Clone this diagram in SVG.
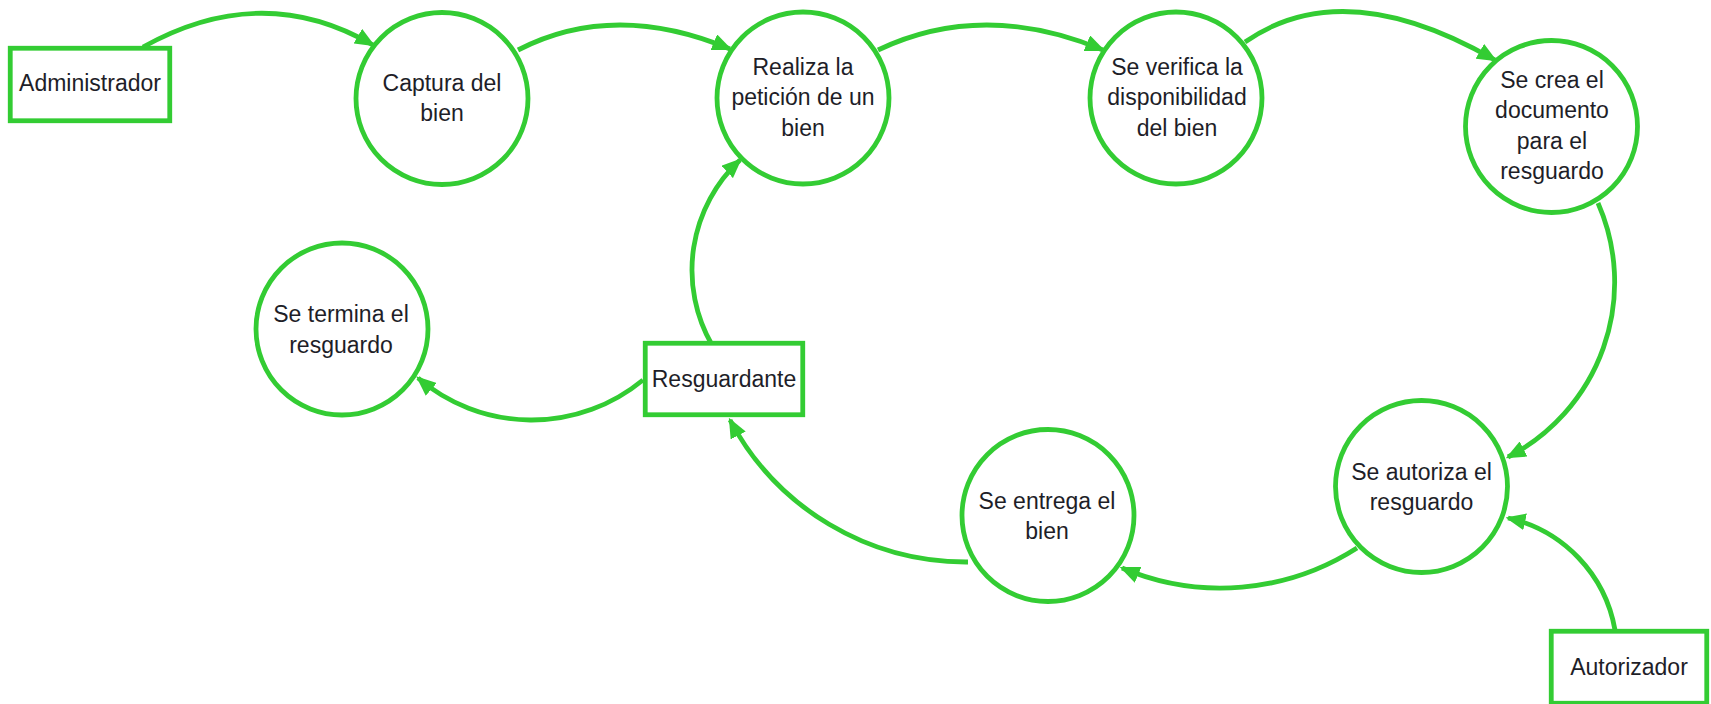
<svg xmlns="http://www.w3.org/2000/svg" width="1711" height="704" viewBox="0 0 1711 704">
<style>
.n{fill:#ffffff;stroke:#33cc33;stroke-width:4.8}
.c{fill:none;stroke:#33cc33;stroke-width:4.8;marker-end:url(#ah)}
text{font-family:"Liberation Sans",Arial,sans-serif;font-size:23px;fill:#1e1e28;text-anchor:middle}
</style>
<defs>
<marker id="ah" markerUnits="userSpaceOnUse" viewBox="0 0 20 17" markerWidth="20" markerHeight="17" refX="17.5" refY="8.5" orient="auto">
<path d="M0,0 L20,8.5 L0,17 z" fill="#33cc33"/>
</marker>
</defs>
<rect width="1711" height="704" fill="#ffffff"/>
<g id="connectors">
<path class="c" d="M143,47 Q262,-19.5 373,45"/>
<path class="c" d="M518,50 Q614,0.5 730,49"/>
<path class="c" d="M878,50 Q983,0 1103,50"/>
<path class="c" d="M1245,42 Q1344,-27 1495,60"/>
<path class="c" d="M1598,203 A196.6,196.6 0 0,1 1508,457"/>
<path class="c" d="M1615,630 A139.3,139.3 0 0,0 1508,518"/>
<path class="c" d="M1357,548 A252.6,252.6 0 0,1 1122,568"/>
<path class="c" d="M968,562 A267,267 0 0,1 730,420"/>
<path class="c" d="M712,345 A150.2,150.2 0 0,1 740,160"/>
<path class="c" d="M643,380 A174.8,174.8 0 0,1 418,378"/>
</g>
<g id="administrador">
<rect class="n" x="10.25" y="48.25" width="159.5" height="72.5"/>
<text x="90" y="91">Administrador</text>
</g>
<g id="captura">
<circle class="n" cx="442" cy="98.5" r="86"/>
<text x="442" y="90.5">Captura del</text>
<text x="442" y="121">bien</text>
</g>
<g id="realiza">
<circle class="n" cx="803" cy="98" r="86"/>
<text x="803" y="74.5">Realiza la</text>
<text x="803" y="105">petición de un</text>
<text x="803" y="135.5">bien</text>
</g>
<g id="verifica">
<circle class="n" cx="1176" cy="98" r="86"/>
<text x="1177" y="74.5">Se verifica la</text>
<text x="1177" y="105">disponibilidad</text>
<text x="1177" y="135.5">del bien</text>
</g>
<g id="crea">
<circle class="n" cx="1551.5" cy="126.5" r="86"/>
<text x="1552" y="87.75">Se crea el</text>
<text x="1552" y="118.25">documento</text>
<text x="1552" y="148.75">para el</text>
<text x="1552" y="179.25">resguardo</text>
</g>
<g id="autoriza">
<circle class="n" cx="1421.5" cy="486.5" r="86"/>
<text x="1421.5" y="479.5">Se autoriza el</text>
<text x="1421.5" y="510">resguardo</text>
</g>
<g id="entrega">
<circle class="n" cx="1048" cy="515.5" r="86"/>
<text x="1047" y="508.5">Se entrega el</text>
<text x="1047" y="539">bien</text>
</g>
<g id="termina">
<circle class="n" cx="342" cy="329" r="86"/>
<text x="341" y="322">Se termina el</text>
<text x="341" y="352.5">resguardo</text>
</g>
<g id="resguardante">
<rect class="n" x="645.25" y="343.25" width="157.5" height="71.5"/>
<text x="724" y="386.5">Resguardante</text>
</g>
<g id="autorizador">
<rect class="n" x="1551.25" y="631.25" width="155.5" height="72"/>
<text x="1629" y="674.5">Autorizador</text>
</g>
</svg>
